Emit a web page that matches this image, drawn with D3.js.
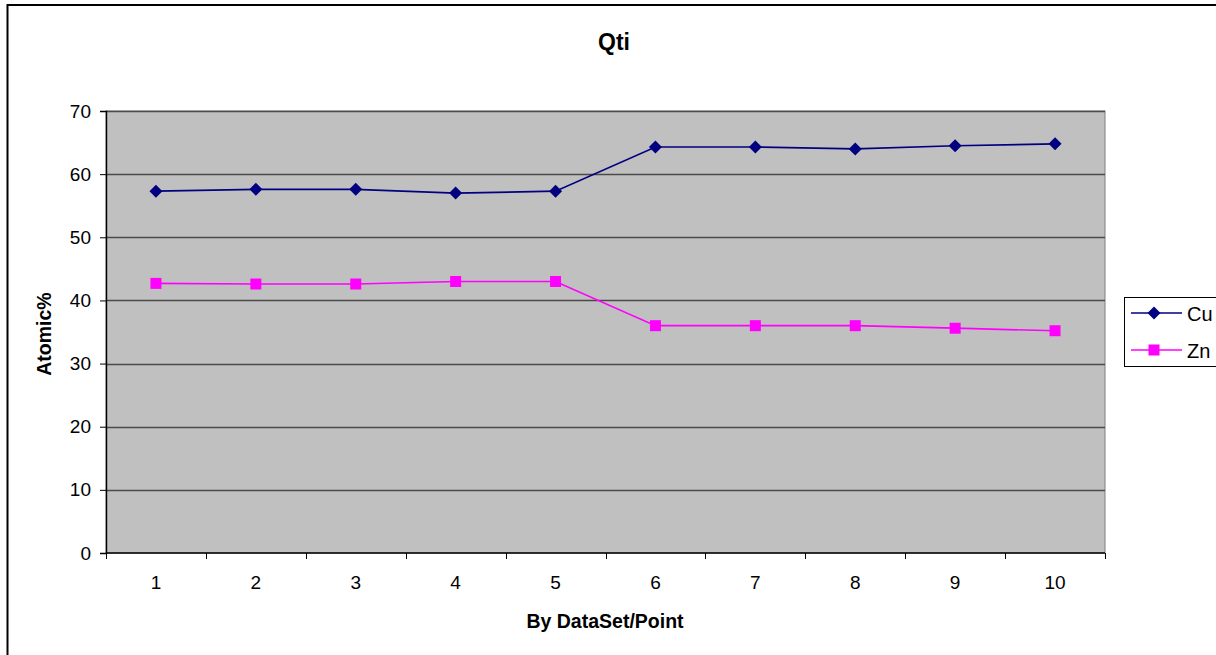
<!DOCTYPE html>
<html>
<head>
<meta charset="utf-8">
<script src="https://cdn.jsdelivr.net/npm/d3@7"></script>
<style>
  html, body { margin: 0; padding: 0; background: #fff; }
  svg { display: block; font-family: "Liberation Sans", Arial, sans-serif; }
</style>
</head>
<body>
<svg id="chart" width="1216" height="655"></svg>
<script>
// Sample points along the x axis
const points = [1, 2, 3, 4, 5, 6, 7, 8, 9, 10];
// Composition in atomic percent
const cuValues = [57.3, 57.6, 57.6, 57.0, 57.3, 64.3, 64.3, 64.0, 64.5, 64.8];
const znValues = [42.7, 42.6, 42.6, 43.0, 43.0, 36.0, 36.0, 36.0, 35.6, 35.2];
const yTicks = [0, 10, 20, 30, 40, 50, 60, 70];

// Marker shapes: a square-cornered diamond and a plain square
const diamond = r => `M0,${-r}L${r},0L0,${r}L${-r},0Z`;
const square = r => `M${-r},${-r}H${r}V${r}H${-r}Z`;

const series = [
  { name: "Cu", values: cuValues, color: "#000080", marker: () => diamond(6.5) },
  { name: "Zn", values: znValues, color: "#FF00FF", marker: () => square(5.5) }
];

const svg = d3.select("#chart");
const plot = { left: 106, top: 111, right: 1105, bottom: 553 };

// Chart frame
svg.append("rect")
  .attr("x", 7.5).attr("y", 5)
  .attr("width", 1216).attr("height", 660)
  .attr("fill", "#fff").attr("stroke", "#000").attr("stroke-width", 2);

const x = d3.scaleBand().domain(points).range([plot.left, plot.right]);
const y = d3.scaleLinear().domain([0, 70]).range([plot.bottom, plot.top]);

// Plot area
svg.append("rect")
  .attr("x", plot.left).attr("y", plot.top)
  .attr("width", plot.right - plot.left).attr("height", plot.bottom - plot.top)
  .attr("fill", "#C0C0C0").attr("stroke", "#808080").attr("stroke-width", 1);

// Horizontal gridlines
svg.append("g").selectAll("line").data(yTicks.filter(t => t > 0)).join("line")
  .attr("x1", plot.left).attr("x2", plot.right)
  .attr("y1", d => Math.round(y(d)) + 0.5).attr("y2", d => Math.round(y(d)) + 0.5)
  .attr("stroke", "#4a4a4a").attr("stroke-width", 1.4);

// Y axis
const yAxis = svg.append("g")
  .attr("transform", `translate(${plot.left},0)`)
  .call(d3.axisLeft(y).tickValues(yTicks).tickSize(6).tickPadding(9));
yAxis.select(".domain").attr("stroke", "#000").attr("stroke-width", 1.4);
yAxis.selectAll(".tick line").attr("stroke", "#000");
yAxis.selectAll(".tick text").attr("font-size", 19).attr("fill", "#000")
  .attr("font-family", "Liberation Sans, Arial, sans-serif");

// X axis: ticks at category boundaries, labels centred in each band
const xAxisG = svg.append("g").attr("transform", `translate(0,${plot.bottom})`);
xAxisG.append("line")
  .attr("x1", plot.left).attr("x2", plot.right)
  .attr("y1", 0).attr("y2", 0)
  .attr("stroke", "#000").attr("stroke-width", 1.4);
const boundaries = points.map(p => x(p)).concat([x(points[points.length - 1]) + x.bandwidth()]);
xAxisG.selectAll("line.tick").data(boundaries).join("line")
  .attr("class", "tick")
  .attr("x1", d => Math.round(d) + 0.5).attr("x2", d => Math.round(d) + 0.5)
  .attr("y1", 0).attr("y2", 6)
  .attr("stroke", "#000");
xAxisG.selectAll("text").data(points).join("text")
  .attr("x", d => x(d) + x.bandwidth() / 2)
  .attr("y", 36)
  .attr("text-anchor", "middle")
  .attr("font-size", 19)
  .text(d => d);

// Series lines and markers
const line = d3.line()
  .x((d, i) => x(points[i]) + x.bandwidth() / 2)
  .y(d => y(d));

series.forEach(s => {
  svg.append("path")
    .datum(s.values)
    .attr("d", line)
    .attr("fill", "none")
    .attr("stroke", s.color)
    .attr("stroke-width", 1.7);
  svg.append("g").selectAll("path").data(s.values).join("path")
    .attr("transform", (d, i) => `translate(${x(points[i]) + x.bandwidth() / 2},${y(d)})`)
    .attr("d", s.marker())
    .attr("fill", s.color);
});

// Title
svg.append("text")
  .attr("x", 614).attr("y", 50)
  .attr("text-anchor", "middle")
  .attr("font-size", 23).attr("font-weight", "bold")
  .text("Qti");

// Axis titles
svg.append("text")
  .attr("x", 605).attr("y", 628)
  .attr("text-anchor", "middle")
  .attr("font-size", 19.5).attr("font-weight", "bold")
  .text("By DataSet/Point");

svg.append("text")
  .attr("transform", "translate(51,334) rotate(-90)")
  .attr("text-anchor", "middle")
  .attr("font-size", 19.5).attr("font-weight", "bold")
  .text("Atomic%");

// Legend
const legend = svg.append("g");
legend.append("rect")
  .attr("x", 1124.5).attr("y", 297.5)
  .attr("width", 100).attr("height", 69)
  .attr("fill", "#fff").attr("stroke", "#000").attr("stroke-width", 1);
series.forEach((s, i) => {
  const ly = 313 + i * 37;
  legend.append("line")
    .attr("x1", 1131).attr("x2", 1182)
    .attr("y1", ly).attr("y2", ly)
    .attr("stroke", s.color).attr("stroke-width", 1.7);
  legend.append("path")
    .attr("transform", `translate(1154,${ly})`)
    .attr("d", s.marker())
    .attr("fill", s.color);
  legend.append("text")
    .attr("x", 1187).attr("y", ly + 8)
    .attr("font-size", 20)
    .text(s.name);
});
</script>
</body>
</html>
